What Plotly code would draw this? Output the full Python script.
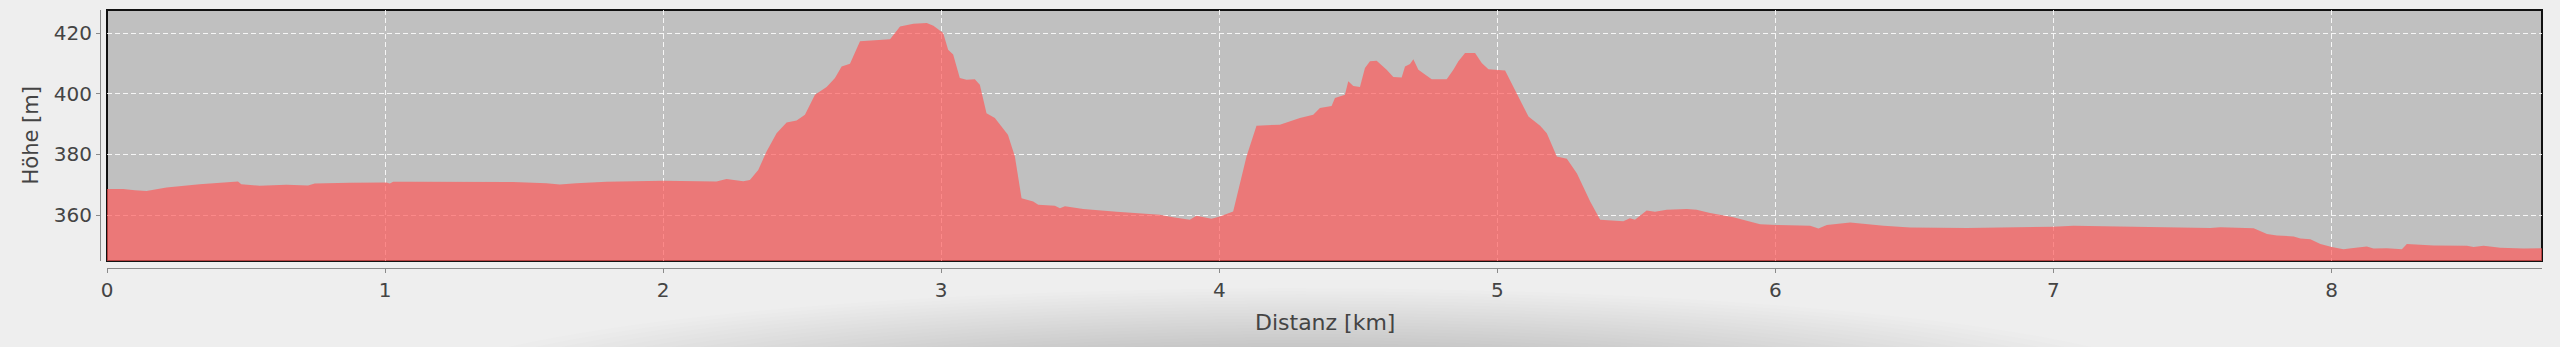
import plotly.graph_objects as go

# Distance along the route [km]
distanz_km = [
    0.000, 0.058, 0.100, 0.142, 0.214, 0.333, 0.471, 0.483, 0.549, 0.645,
    0.723, 0.747, 0.873, 1.005, 1.017, 1.029, 1.089, 1.460, 1.580, 1.628,
    1.688, 1.796, 2.000, 2.168, 2.192, 2.228, 2.264, 2.288, 2.312, 2.342,
    2.372, 2.408, 2.444, 2.480, 2.510, 2.546, 2.588, 2.618, 2.642, 2.672,
    2.708, 2.816, 2.852, 2.900, 2.948, 2.972, 3.007, 3.025, 3.043, 3.067,
    3.091, 3.121, 3.139, 3.163, 3.193, 3.215, 3.240, 3.265, 3.289, 3.331,
    3.349, 3.409, 3.427, 3.445, 3.511, 3.631, 3.786, 3.834, 3.894, 3.918,
    3.972, 4.002, 4.050, 4.098, 4.134, 4.218, 4.290, 4.338, 4.362, 4.404,
    4.416, 4.452, 4.464, 4.482, 4.506, 4.524, 4.542, 4.566, 4.602, 4.626,
    4.656, 4.668, 4.686, 4.698, 4.716, 4.764, 4.818, 4.842, 4.860, 4.884,
    4.920, 4.944, 4.968, 5.028, 5.070, 5.112, 5.154, 5.178, 5.214, 5.250,
    5.286, 5.334, 5.370, 5.405, 5.453, 5.477, 5.495, 5.537, 5.567, 5.609,
    5.681, 5.717, 5.765, 5.849, 5.945, 6.005, 6.125, 6.155, 6.185, 6.269,
    6.389, 6.485, 6.689, 7.000, 7.072, 7.288, 7.564, 7.600, 7.720, 7.768,
    7.804, 7.864, 7.888, 7.924, 7.960, 8.001, 8.043, 8.079, 8.127, 8.151,
    8.199, 8.253, 8.271, 8.367, 8.487, 8.511, 8.547, 8.607, 8.691, 8.757,
]

# Elevation [m]
hoehe_m = [
    368.6, 368.6, 368.2, 368.0, 369.1, 370.2, 371.1, 370.2, 369.7, 370.0,
    369.8, 370.4, 370.7, 370.8, 370.4, 371.0, 371.0, 370.9, 370.5, 370.1,
    370.5, 371.0, 371.3, 371.2, 371.1, 371.9, 371.6, 371.2, 371.6, 374.9,
    381.0, 387.0, 390.5, 391.2, 393.1, 399.7, 402.2, 405.2, 409.0, 409.9,
    417.3, 418.0, 422.2, 423.1, 423.3, 422.4, 420.0, 414.5, 412.9, 405.2,
    404.6, 404.8, 403.0, 393.6, 392.0, 389.5, 386.5, 379.3, 365.6, 364.5,
    363.4, 363.1, 362.3, 362.9, 362.0, 361.1, 360.1, 359.3, 358.5, 359.8,
    358.8, 359.6, 361.2, 379.3, 389.5, 389.8, 392.0, 393.1, 395.3, 396.0,
    398.6, 399.7, 404.1, 402.6, 402.2, 408.5, 410.7, 410.9, 407.9, 405.5,
    405.4, 409.0, 409.8, 411.4, 407.9, 404.8, 404.8, 407.9, 410.7, 413.4,
    413.4, 410.1, 408.1, 407.7, 400.2, 392.5, 389.5, 387.0, 379.3, 378.6,
    373.8, 364.5, 358.5, 358.2, 358.0, 359.0, 358.5, 361.5, 361.1, 361.8,
    362.0, 361.8, 360.7, 359.3, 357.0, 356.8, 356.5, 355.6, 356.8, 357.6,
    356.5, 355.9, 355.8, 356.2, 356.5, 356.2, 355.8, 356.0, 355.7, 353.8,
    353.3, 353.0, 352.3, 352.1, 350.5, 349.5, 348.8, 349.2, 349.7, 349.0,
    349.1, 348.8, 350.5, 350.0, 349.9, 349.5, 349.9, 349.3, 349.0, 349.1,
]

x_ticks = [0, 1, 2, 3, 4, 5, 6, 7, 8]
y_ticks = [360, 380, 400, 420]
x_title = "Distanz [km]"
y_title = "Höhe [m]"

W, H = 2560, 347
ML, MR, MT, MB = 100, 18, 10, 79
OFF = 7
paper_w = W - ML - MR
paper_h = H - MT - MB

font_family = "DejaVu Sans"
text_color = "#444444"
axis_color = "#8a8a8a"


def px_x(p):
    return (p - ML) / paper_w


def px_y(p):
    return (MT + paper_h - p) / paper_h


# soft page shadow below the chart (decorative backdrop)
shadow_shapes = []
n_layers = 24
for i in range(n_layers):
    t = i / (n_layers - 1)
    rx = 900 - t * 520
    ry = 112 - t * 70
    cx, cy = 1300, 400
    shadow_shapes.append(dict(
        type="circle", xref="paper", yref="paper",
        x0=px_x(cx - rx), x1=px_x(cx + rx),
        y0=px_y(cy + ry), y1=px_y(cy - ry),
        line=dict(width=0), fillcolor="rgba(0,0,0,0.0075)",
        layer="below",
    ))

fig = go.Figure()
fig.add_trace(go.Scatter(
    x=distanz_km, y=hoehe_m,
    mode="lines",
    line=dict(width=0, color="rgba(255,85,85,0.68)"),
    fill="tozeroy",
    fillcolor="rgba(255,85,85,0.68)",
    hoverinfo="skip",
    showlegend=False,
))

fig.update_layout(
    width=W, height=H,
    margin=dict(l=ML, r=MR, t=MT, b=MB, pad=0),
    paper_bgcolor="#eeeeee",
    plot_bgcolor="#c0c0c0",
    font=dict(family=font_family, size=20, color=text_color),
    showlegend=False,
    xaxis=dict(
        domain=[OFF / paper_w, 1],
        anchor="free", position=0,
        range=[0, 8.757],
        tickvals=x_ticks,
        ticktext=[str(v) for v in x_ticks],
        showline=True, linecolor=axis_color, linewidth=1,
        ticks="outside", ticklen=4, tickcolor=axis_color, tickwidth=1,
        showgrid=True, gridcolor="rgba(255,255,255,0.85)", gridwidth=1,
        griddash="5px,3px",
        zeroline=False,
        tickfont=dict(size=20, color=text_color),
        automargin=False,
        fixedrange=True,
    ),
    yaxis=dict(
        domain=[OFF / paper_h, 1],
        anchor="free", position=0,
        range=[344.9, 427.6],
        tickvals=y_ticks,
        ticktext=[str(v) for v in y_ticks],
        showline=True, linecolor=axis_color, linewidth=1,
        ticks="outside", ticklen=4, tickcolor=axis_color, tickwidth=1,
        showgrid=True, gridcolor="rgba(255,255,255,0.85)", gridwidth=1,
        griddash="5px,3px",
        zeroline=False,
        tickfont=dict(size=20, color=text_color),
        automargin=False,
        fixedrange=True,
    ),
    shapes=shadow_shapes + [dict(
        type="rect", xref="x domain", yref="y domain",
        x0=0, x1=1, y0=0, y1=1,
        line=dict(color="#111111", width=2),
        fillcolor="rgba(0,0,0,0)",
        layer="below",
    )],
    annotations=[
        dict(text=x_title, xref="x domain", yref="paper",
             x=0.5, y=(268 - 322) / paper_h,
             xanchor="center", yanchor="middle", showarrow=False,
             font=dict(size=22, color=text_color, family=font_family)),
        dict(text=y_title, xref="paper", yref="y domain",
             x=(30 - ML) / paper_w, y=0.5, textangle=-90,
             xanchor="center", yanchor="middle", showarrow=False,
             font=dict(size=21, color=text_color, family=font_family)),
    ],
)

fig.write_html("out.html", config={"displayModeBar": False})
